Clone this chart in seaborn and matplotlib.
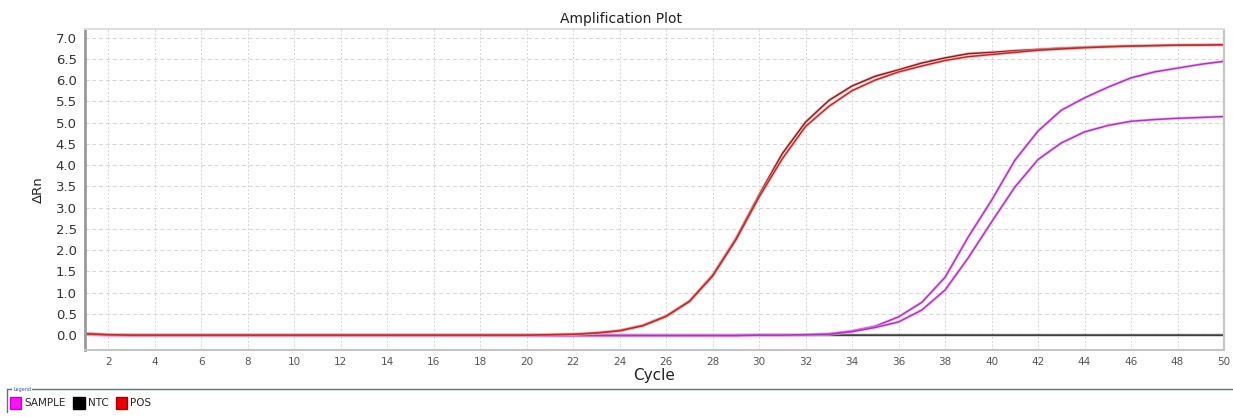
import numpy as np
import pandas as pd
import matplotlib
matplotlib.use("Agg")
import matplotlib.pyplot as plt
import matplotlib.patheffects as pe
from matplotlib.lines import Line2D
from matplotlib.patches import Patch
import seaborn as sns

cycles = list(range(1, 51))

pos_upper = [0.03, 0.01, 0.0, 0.0, 0.0, 0.0, 0.0, 0.0, 0.0, 0.0,
             0.0, 0.0, 0.0, 0.0, 0.0, 0.0, 0.0, 0.0, 0.0, 0.0,
             0.01, 0.02, 0.05, 0.11, 0.23, 0.45, 0.80, 1.41, 2.27, 3.30,
             4.27, 5.01, 5.52, 5.86, 6.09, 6.24, 6.40, 6.52, 6.62, 6.65,
             6.69, 6.72, 6.75, 6.77, 6.79, 6.80, 6.81, 6.82, 6.83, 6.83]
pos_lower = [0.03, 0.01, 0.0, 0.0, 0.0, 0.0, 0.0, 0.0, 0.0, 0.0,
             0.0, 0.0, 0.0, 0.0, 0.0, 0.0, 0.0, 0.0, 0.0, 0.0,
             0.01, 0.02, 0.05, 0.10, 0.22, 0.44, 0.79, 1.39, 2.24, 3.25,
             4.15, 4.91, 5.38, 5.75, 6.00, 6.19, 6.33, 6.46, 6.55, 6.60,
             6.65, 6.70, 6.73, 6.76, 6.78, 6.80, 6.81, 6.82, 6.82, 6.83]
sample_upper = [0.02, 0.0, -0.01, -0.01, -0.01, -0.01, -0.01, -0.01, -0.01, -0.01,
                -0.01, -0.01, -0.01, -0.01, -0.01, -0.01, -0.01, -0.01, -0.01, -0.01,
                -0.01, -0.01, -0.01, -0.01, -0.01, -0.01, -0.01, -0.01, -0.01, 0.0,
                0.0, 0.01, 0.03, 0.10, 0.21, 0.43, 0.77, 1.36, 2.31, 3.17,
                4.11, 4.80, 5.29, 5.58, 5.83, 6.05, 6.19, 6.28, 6.37, 6.44]
sample_lower = [0.02, 0.0, -0.01, -0.01, -0.01, -0.01, -0.01, -0.01, -0.01, -0.01,
                -0.01, -0.01, -0.01, -0.01, -0.01, -0.01, -0.01, -0.01, -0.01, -0.01,
                -0.01, -0.01, -0.01, -0.01, -0.01, -0.01, -0.01, -0.01, -0.01, 0.0,
                0.0, 0.01, 0.02, 0.08, 0.18, 0.31, 0.59, 1.06, 1.82, 2.66,
                3.48, 4.13, 4.52, 4.78, 4.93, 5.03, 5.07, 5.10, 5.12, 5.14]
ntc = [0.04, 0.01] + [0.0] * 48

series = {
    "NTC": ntc,
    "SAMPLE 1": sample_upper,
    "SAMPLE 2": sample_lower,
    "POS 1": pos_upper,
    "POS 2": pos_lower,
}
colors = {
    "SAMPLE 1": "#A838B8",
    "SAMPLE 2": "#A838B8",
    "POS 1": "#8A2020",
    "POS 2": "#CC2424",
    "NTC": "#222222",
}
halo = {
    "SAMPLE 1": "#F5A0FA",
    "SAMPLE 2": "#F5A0FA",
    "POS 1": "#E8A8A8",
    "POS 2": "#F2B0B0",
    "NTC": "#999999",
}

rows = []
for name, vals in series.items():
    for c, v in zip(cycles, vals):
        rows.append({"Cycle": c, "dRn": v, "well": name})
df = pd.DataFrame(rows)

sns.set_style("white")
plt.rcParams["font.family"] = ["DejaVu Sans"]

fig = plt.figure(figsize=(12.33, 4.17), dpi=100)
ax = fig.add_axes([85 / 1233, 1 - 350 / 417, (1224 - 85) / 1233, (350 - 29) / 417])

for name in series:
    sub = df[df["well"] == name]
    lw = 1.1 if name != "NTC" else 1.0
    sns.lineplot(data=sub, x="Cycle", y="dRn", ax=ax, color=colors[name],
                 linewidth=lw, legend=False,
                 path_effects=[pe.Stroke(linewidth=lw + 1.3, foreground=halo[name], alpha=0.55),
                               pe.Normal()])

ax.set_xlim(1, 50)
ax.set_ylim(-0.35, 7.2)
ax.set_xticks(range(2, 51, 2))
ax.set_yticks(np.arange(0, 7.01, 0.5))
ax.set_yticklabels([f"{v:.1f}" for v in np.arange(0, 7.01, 0.5)])

ax.grid(True, axis="y", color="#d4d4d4", linestyle=(0, (4, 3)), linewidth=0.7)
ax.grid(True, axis="x", color="#d4d4d4", linestyle=(0, (2, 2)), linewidth=0.7)
ax.set_axisbelow(True)

ax.tick_params(axis="y", labelsize=9.5, colors="#333333", length=2, pad=4)
ax.tick_params(axis="x", labelsize=7.5, colors="#555555", length=2, pad=3)

ax.spines["left"].set_color("#999999")
ax.spines["left"].set_linewidth(2.0)
ax.spines["bottom"].set_color("#c4c4c4")
ax.spines["bottom"].set_linewidth(1.5)
ax.spines["right"].set_color("#c4c4c4")
ax.spines["right"].set_linewidth(1.5)
ax.spines["top"].set_color("#dddddd")
ax.spines["top"].set_linewidth(1.5)

ax.set_xlabel("Cycle", fontsize=11, color="#222222", labelpad=1)
ax.set_ylabel("ΔRn", fontsize=9.5, color="#222222", labelpad=8)
fig.text(621 / 1233, 1 - 19 / 417, "Amplification Plot", fontsize=10,
         color="#222222", ha="center", va="center")

# Legend box at bottom
fig.add_artist(Line2D([7 / 1233, 1.0], [1 - 389 / 417, 1 - 389 / 417],
                      color="#557777", linewidth=1.0))
fig.add_artist(Line2D([7 / 1233, 7 / 1233], [1 - 389 / 417, 1 - 412 / 417],
                      color="#557777", linewidth=1.0))
fig.text(13 / 1233, 1 - 389 / 417, "Legend", fontsize=3.5, color="#3355aa",
         va="center", ha="left",
         bbox=dict(facecolor="white", edgecolor="none", pad=0.5))

handles = [Patch(facecolor="#FF10FF", edgecolor="#cc00cc", label="SAMPLE"),
           Patch(facecolor="#000000", edgecolor="#000000", label="NTC"),
           Patch(facecolor="#EE0000", edgecolor="#aa0000", label="POS")]
fig.legend(handles=handles, loc="center left",
           bbox_to_anchor=(10 / 1233, 1 - 403 / 417), ncol=3, frameon=False,
           fontsize=7.5, handlelength=1.1, handleheight=1.3, handletextpad=0.3,
           columnspacing=0.7, borderaxespad=0, borderpad=0)

fig.savefig("out.png", dpi=100, facecolor="white")
